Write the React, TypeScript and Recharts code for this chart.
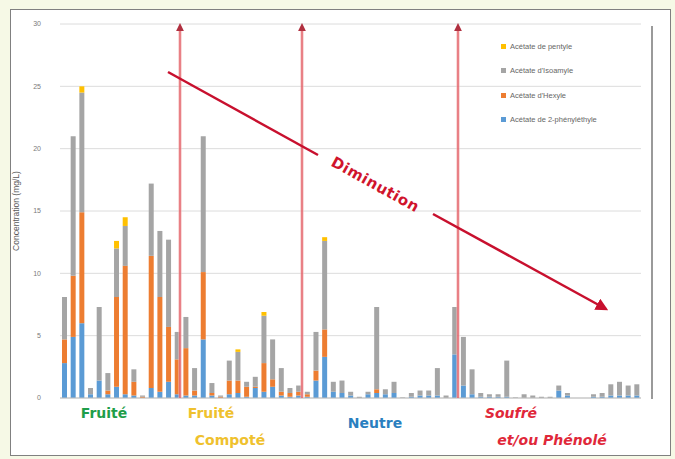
import { BarChart, Bar, XAxis, YAxis, CartesianGrid } from 'recharts';

// 67 wines, in the order of the figure
const samples = Array.from({ length: 67 }, (_, i) => `Vin ${i + 1}`);

// mg/L (bottom to top of each stack)
const phenylethyl = [
  2.8, 4.9, 6.0, 0.3, 1.4, 0.3, 0.9, 0.3, 0.2, 0, 0.8, 0.5, 1.3, 0.3, 0.2, 0.2, 4.7, 0.2, 0, 0.3,
  0.4, 0.1, 0.8, 0.5, 0.9, 0.2, 0.1, 0.2, 0.1, 1.4, 3.3, 0.5, 0.4, 0.2, 0, 0.3, 0.4, 0.3, 0.4, 0,
  0.1, 0.2, 0.2, 0.2, 0, 3.5, 1.0, 0.3, 0.1, 0.1, 0.1, 0.1, 0, 0, 0, 0, 0, 0.6, 0.2, 0,
  0, 0.1, 0.1, 0.2, 0.2, 0.2, 0.2,
];
const hexyle = [
  1.9, 4.9, 8.9, 0, 0, 0.3, 7.2, 10.3, 1.1, 0.1, 10.6, 7.6, 4.4, 2.8, 3.8, 0.4, 5.4, 0.2, 0.1, 1.1,
  1.0, 0.8, 0.1, 2.3, 0.6, 0.3, 0.3, 0.3, 0.2, 0.8, 2.2, 0, 0, 0, 0, 0, 0.3, 0, 0, 0,
  0, 0, 0, 0, 0, 0, 0, 0, 0, 0, 0, 0, 0, 0, 0, 0, 0, 0, 0, 0,
  0, 0, 0, 0, 0, 0, 0,
];
const isoamyle = [
  3.4, 11.2, 9.6, 0.5, 5.9, 1.4, 3.9, 3.2, 1.0, 0.1, 5.8, 5.3, 7.0, 2.2, 2.5, 1.8, 10.9, 0.8, 0.1, 1.6,
  2.3, 0.4, 0.8, 3.8, 3.2, 1.9, 0.4, 0.5, 0.2, 3.1, 7.1, 0.8, 1.0, 0.3, 0.1, 0.2, 6.6, 0.4, 0.9, 0.05,
  0.3, 0.4, 0.4, 2.2, 0.2, 3.8, 3.9, 2.0, 0.3, 0.2, 0.2, 2.9, 0.05, 0.3, 0.2, 0.1, 0.1, 0.4, 0.2, 0,
  0, 0.2, 0.3, 0.9, 1.1, 0.8, 0.9,
];
const pentyle = [
  0, 0, 0.5, 0, 0, 0, 0.6, 0.7, 0, 0, 0, 0, 0, 0, 0, 0, 0, 0, 0, 0,
  0.2, 0, 0, 0.3, 0, 0, 0, 0, 0, 0, 0.3, 0, 0, 0, 0, 0, 0, 0, 0, 0,
  0, 0, 0, 0, 0, 0, 0, 0, 0, 0, 0, 0, 0, 0, 0, 0, 0, 0, 0, 0,
  0, 0, 0, 0, 0, 0, 0,
];

const yTicks = [0, 5, 10, 15, 20, 25, 30];

const SERIES = [
  { key: 'phenylethyl', name: 'Acétate de 2-phényléthyle', color: '#5b9bd5' },
  { key: 'hexyle', name: "Acétate d'Hexyle", color: '#ed7d31' },
  { key: 'isoamyle', name: "Acétate d'Isoamyle", color: '#a5a5a5' },
  { key: 'pentyle', name: 'Acétate de pentyle', color: '#ffc000' },
];

const data = samples.map((name, i) => ({
  name,
  phenylethyl: phenylethyl[i],
  hexyle: hexyle[i],
  isoamyle: isoamyle[i],
  pentyle: pentyle[i],
}));

const LABEL_FONT = '"DejaVu Sans", Verdana, sans-serif';

function LegendBox() {
  // Excel lists stacked series top-down, so reversed
  return (
    <div style={{ position: 'absolute', left: 501, top: 34, fontFamily: 'Arial, "Liberation Sans", sans-serif', fontSize: 7.5, color: '#666' }}>
      {[...SERIES].reverse().map((s) => (
        <div key={s.key} style={{ display: 'flex', alignItems: 'center', height: 24.5 }}>
          <span style={{ width: 5, height: 5, background: s.color, marginRight: 4, display: 'inline-block' }} />
          {s.name}
        </div>
      ))}
    </div>
  );
}

export default function App() {
  return (
    <div style={{ position: 'absolute', left: 0, top: 0, width: 675, height: 459, background: '#f6f9e6', overflow: 'hidden' }}>
      <div style={{ position: 'absolute', left: 10, top: 9, width: 659, height: 445, background: '#fff', border: '1px solid #808080' }} />
      <div style={{ position: 'absolute', left: 0, top: 0 }}>
        <BarChart width={675} height={459} data={data} margin={{ top: 24, right: 34, bottom: 60, left: 12 }} barSize={5}>
          <CartesianGrid vertical={false} stroke="#dcdcdc" />
          <XAxis dataKey="name" tick={false} tickLine={false} height={1} axisLine={{ stroke: '#bfbfbf' }} />
          <YAxis
            domain={[0, 30]}
            ticks={yTicks}
            width={48}
            tickSize={0}
            tickMargin={19}
            axisLine={false}
            tick={{ fontSize: 7, fill: '#7a7a7a', fontFamily: 'Arial, sans-serif' }}
            label={{ value: 'Concentration (mg/L)', angle: -90, position: 'insideLeft', offset: 4, style: { fontSize: 8.5, fill: '#595959', fontFamily: 'Arial, sans-serif', textAnchor: 'middle' } }}
          />
          {SERIES.map((s) => (
            <Bar key={s.key} dataKey={s.key} name={s.name} stackId="a" fill={s.color} isAnimationActive={false} />
          ))}
        </BarChart>
      </div>
      <LegendBox />

      {/* annotations drawn on top of the Excel chart */}
      <svg width={675} height={459} style={{ position: 'absolute', left: 0, top: 0, pointerEvents: 'none' }}>
        <defs>
          <marker id="headUp" markerWidth="6" markerHeight="6" refX="3" refY="3" orient="auto">
            <path d="M0,0 L6,3 L0,6 z" fill="#b03040" />
          </marker>
          <marker id="headBig" markerWidth="5" markerHeight="5" refX="4" refY="2.5" orient="auto">
            <path d="M0,0 L5,2.5 L0,5 z" fill="#c8102e" />
          </marker>
        </defs>
        <line x1={652} y1={26} x2={652} y2={399} stroke="#9a9a9a" strokeWidth={2} />
        {[180, 302, 458].map((x) => (
          <g key={x}>
            <line x1={x} y1={398} x2={x} y2={26} stroke="#f4b8b8" strokeWidth={4} opacity={0.5} />
            <line x1={x} y1={398} x2={x} y2={27} stroke="#e05058" strokeWidth={1.3} markerEnd="url(#headUp)" />
          </g>
        ))}
        <line x1={168} y1={72} x2={318} y2={155} stroke="#c8102e" strokeWidth={2.5} />
        <line x1={433} y1={214} x2={606} y2={309} stroke="#c8102e" strokeWidth={2.5} markerEnd="url(#headBig)" />
        <text x={375} y={185} transform="rotate(28.8 375 185)" textAnchor="middle" dominantBaseline="middle"
          fontFamily={LABEL_FONT} fontWeight="bold" fontSize={15} fill="#d0142c" letterSpacing={0.5}>
          Diminution
        </text>
        <text x={104} y={418} textAnchor="middle" fontFamily={LABEL_FONT} fontWeight="bold" fontSize={14} fill="#1f9e4a">Fruité</text>
        <text x={211} y={418} textAnchor="middle" fontFamily={LABEL_FONT} fontWeight="bold" fontSize={14} fill="#efc12e">Fruité</text>
        <text x={230} y={445} textAnchor="middle" fontFamily={LABEL_FONT} fontWeight="bold" fontSize={14} fill="#efc12e">Compoté</text>
        <text x={375} y={428} textAnchor="middle" fontFamily={LABEL_FONT} fontWeight="bold" fontSize={14} fill="#2a7fc0">Neutre</text>
        <text x={511} y={418} textAnchor="middle" fontFamily={LABEL_FONT} fontWeight="bold" fontStyle="italic" fontSize={14} fill="#e0283a">Soufré</text>
        <text x={552} y={445} textAnchor="middle" fontFamily={LABEL_FONT} fontWeight="bold" fontStyle="italic" fontSize={14} fill="#e0283a">et/ou Phénolé</text>
      </svg>
    </div>
  );
}
